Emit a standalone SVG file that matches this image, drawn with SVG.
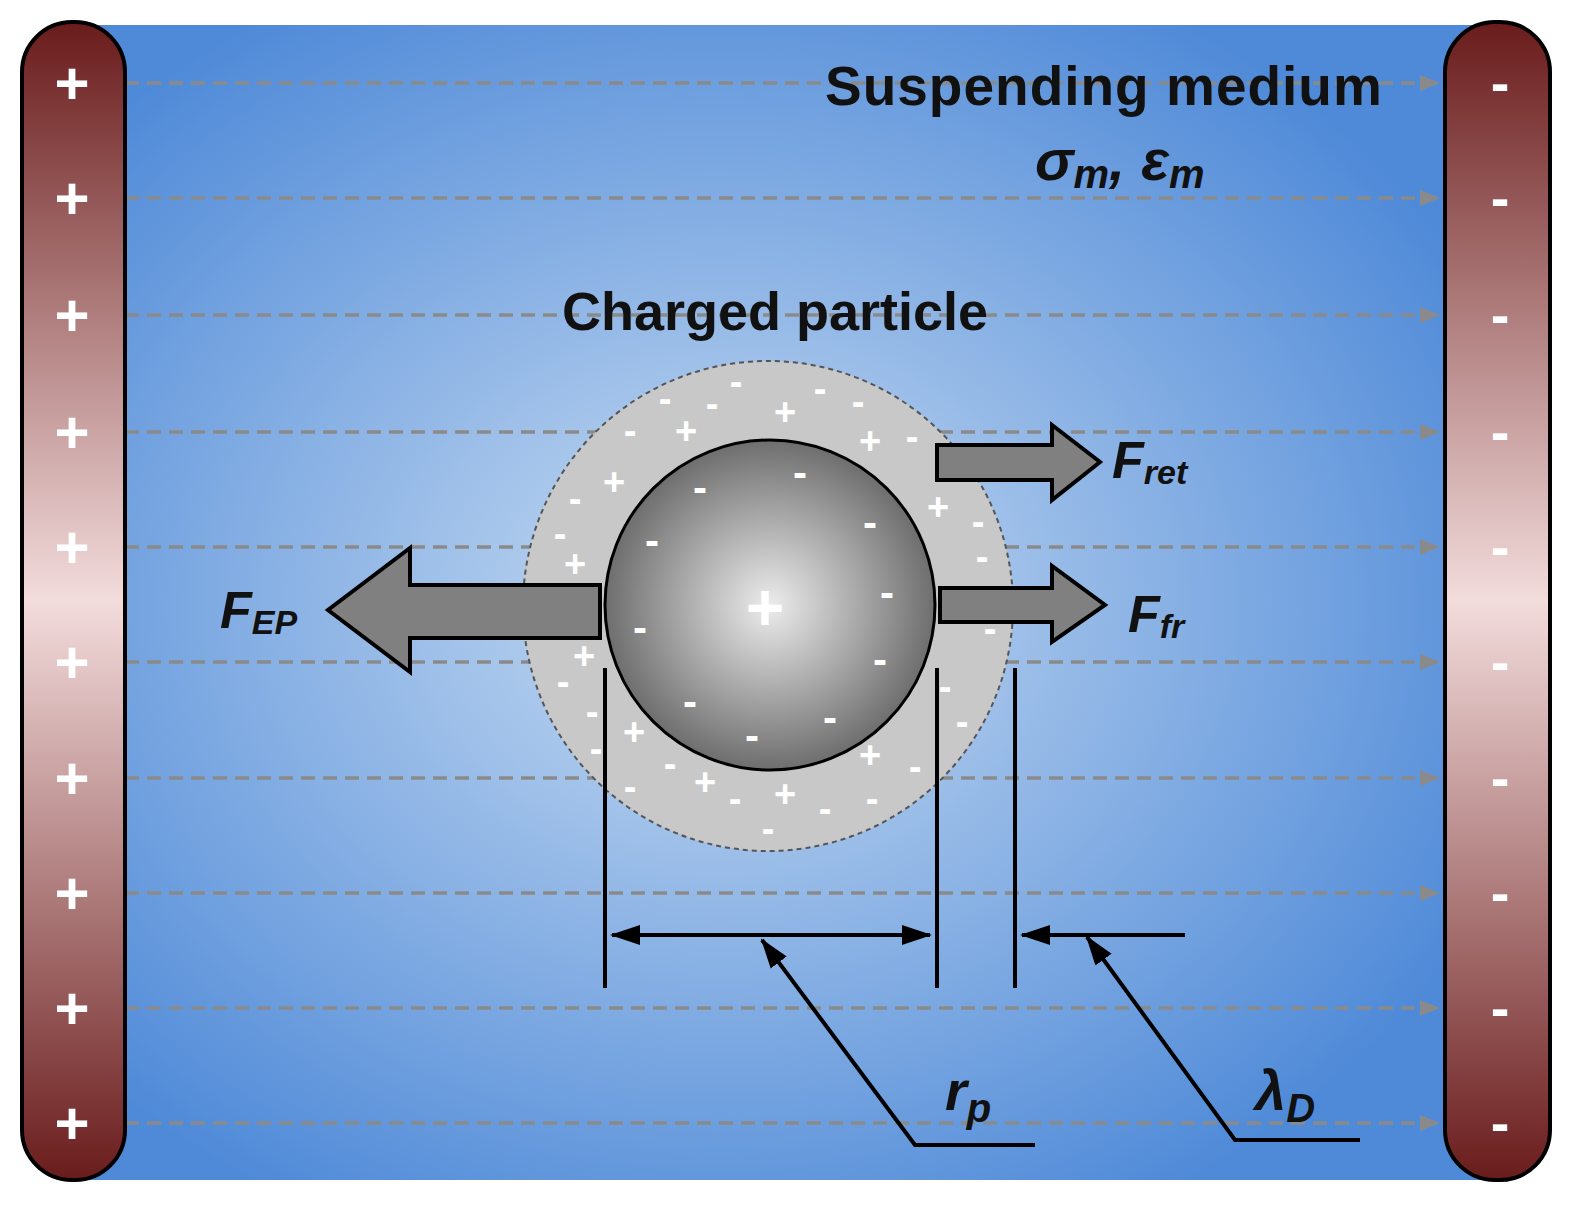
<svg xmlns="http://www.w3.org/2000/svg" width="1591" height="1213" viewBox="0 0 1591 1213">
<style>
.lbl{font-family:"Liberation Sans",Arial,sans-serif;font-weight:bold;fill:#111}
.it{font-style:italic}
.ion{font-family:"Liberation Sans",Arial,sans-serif;font-weight:bold;fill:#fff;text-anchor:middle}
.field{stroke:#8a8a8a;stroke-width:3.5;stroke-dasharray:14 8;fill:none;marker-end:url(#fa)}
.dim{stroke:#000;stroke-width:4;fill:none}
.force{fill:#808080;stroke:#000;stroke-width:4}
</style>
<defs>
<radialGradient id="bg" cx="0.45" cy="0.5" r="0.6">
<stop offset="0" stop-color="#c8dcf2"/><stop offset="1" stop-color="#4f8ad8"/></radialGradient>
<linearGradient id="el" x1="0" y1="0" x2="0" y2="1">
<stop offset="0" stop-color="#6a1c1c"/><stop offset="0.5" stop-color="#f3dcdc"/><stop offset="1" stop-color="#6a1c1c"/></linearGradient>
<radialGradient id="pg" cx="0.5" cy="0.5" r="0.5">
<stop offset="0" stop-color="#ececec"/><stop offset="1" stop-color="#6e6e6e"/></radialGradient>
<marker id="fa" markerWidth="20" markerHeight="16" refX="20" refY="8" orient="auto" markerUnits="userSpaceOnUse" viewBox="0 0 20 16"><path d="M0,0L20,8L0,16z" fill="#8a8a8a"/></marker>
<marker id="ka" markerWidth="30" markerHeight="24" refX="28" refY="12" orient="auto-start-reverse" markerUnits="userSpaceOnUse"><path d="M0,2L30,12L0,22z" fill="#000"/></marker>
</defs>
<rect x="0" y="0" width="1591" height="1213" fill="#fff"/>
<rect x="80" y="25" width="1420" height="1155" fill="url(#bg)"/>
<g id="fieldlines">
<path class="field" d="M125,83H1440"/><path class="field" d="M125,198H1440"/><path class="field" d="M125,315H1440"/><path class="field" d="M125,432H1440"/><path class="field" d="M125,547H1440"/><path class="field" d="M125,662H1440"/><path class="field" d="M125,778H1440"/><path class="field" d="M125,893H1440"/><path class="field" d="M125,1008H1440"/><path class="field" d="M125,1123H1440"/>
</g>
<g id="electrode-left">
<rect x="22" y="22" width="103" height="1158" rx="50" fill="url(#el)" stroke="#000" stroke-width="4"/>
<g class="ion" font-size="60">
<text x="72" y="104">+</text><text x="72" y="219">+</text><text x="72" y="336">+</text><text x="72" y="453">+</text><text x="72" y="568">+</text><text x="72" y="683">+</text><text x="72" y="799">+</text><text x="72" y="914">+</text><text x="72" y="1029">+</text><text x="72" y="1144">+</text></g>
</g>
<g id="electrode-right">
<rect x="1445" y="22" width="105" height="1158" rx="50" fill="url(#el)" stroke="#000" stroke-width="4"/>
<g class="ion" font-size="56">
<text x="1500" y="102">-</text><text x="1500" y="217">-</text><text x="1500" y="334">-</text><text x="1500" y="451">-</text><text x="1500" y="566">-</text><text x="1500" y="681">-</text><text x="1500" y="797">-</text><text x="1500" y="912">-</text><text x="1500" y="1027">-</text><text x="1500" y="1142">-</text></g>
</g>
<g id="halo">
<circle cx="768" cy="606" r="245" fill="#c8c8c8" stroke="#555" stroke-width="2" stroke-dasharray="5 4"/>
<g class="ion" font-size="38">
<text x="736" y="395">-</text><text x="665" y="412">-</text><text x="712" y="417">-</text><text x="785" y="425">+</text><text x="820" y="402">-</text><text x="858" y="415">-</text><text x="686" y="444">+</text><text x="630" y="444">-</text><text x="870" y="454">+</text><text x="912" y="450">-</text><text x="614" y="495">+</text><text x="575" y="512">-</text><text x="938" y="520">+</text><text x="978" y="535">-</text><text x="560" y="547">-</text><text x="575" y="577">+</text><text x="982" y="570">-</text><text x="990" y="642">-</text><text x="584" y="669">+</text><text x="563" y="695">-</text><text x="592" y="725">-</text><text x="945" y="700">-</text><text x="962" y="735">-</text><text x="634" y="745">+</text><text x="596" y="762">-</text><text x="670" y="777">-</text><text x="870" y="768">+</text><text x="915" y="780">-</text><text x="705" y="795">+</text><text x="735" y="812">-</text><text x="785" y="807">+</text><text x="825" y="822">-</text><text x="872" y="812">-</text><text x="768" y="842">-</text><text x="630" y="800">-</text></g>
</g>
<g id="particle">
<circle cx="770" cy="605" r="165" fill="url(#pg)" stroke="#000" stroke-width="3"/>
<g class="ion" font-size="42">
<text x="700" y="502">-</text><text x="800" y="487">-</text><text x="870" y="537">-</text><text x="652" y="555">-</text><text x="887" y="607">-</text><text x="640" y="642">-</text><text x="880" y="674">-</text><text x="690" y="716">-</text><text x="830" y="732">-</text><text x="752" y="750">-</text></g>
<text class="ion" font-size="66" x="765" y="630">+</text>
</g>
<g id="forces">
<path class="force" d="M600,585H410V548L328,610L410,672V638H600Z"/>
<path class="force" d="M937,445H1052V425L1100,462L1052,500V480H937Z"/>
<path class="force" d="M940,588H1052V566L1105,605L1052,642V622H940Z"/>
</g>
<g id="dimensions">
<path class="dim" d="M605,668V988M937,668V988M1015,668V988"/>
<path class="dim" d="M612,935H930" marker-start="url(#ka)" marker-end="url(#ka)"/>
<path class="dim" d="M1185,935H1022" marker-end="url(#ka)"/>
<path class="dim" d="M1035,1145H915L762,940" marker-end="url(#ka)"/>
<path class="dim" d="M1360,1140H1235L1087,937" marker-end="url(#ka)"/>
</g>
<g id="labels">
<text class="lbl" x="825" y="105" font-size="55" letter-spacing="1">Suspending medium</text>
<text class="lbl it" x="1035" y="180" font-size="58">σ<tspan font-size="40" dy="8">m</tspan><tspan dy="-8">, ε</tspan><tspan font-size="40" dy="8">m</tspan></text>
<text class="lbl" x="775" y="330" font-size="54" text-anchor="middle">Charged particle</text>
<text class="lbl it" x="220" y="628" font-size="52">F<tspan font-size="34" dy="6">EP</tspan></text>
<text class="lbl it" x="1112" y="478" font-size="52">F<tspan font-size="34" dy="6">ret</tspan></text>
<text class="lbl it" x="1128" y="632" font-size="52">F<tspan font-size="34" dy="6">fr</tspan></text>
<text class="lbl it" x="945" y="1110" font-size="56">r<tspan font-size="40" dy="12">p</tspan></text>
<text class="lbl it" x="1255" y="1110" font-size="56">λ<tspan font-size="40" dy="12">D</tspan></text>
</g>
</svg>
